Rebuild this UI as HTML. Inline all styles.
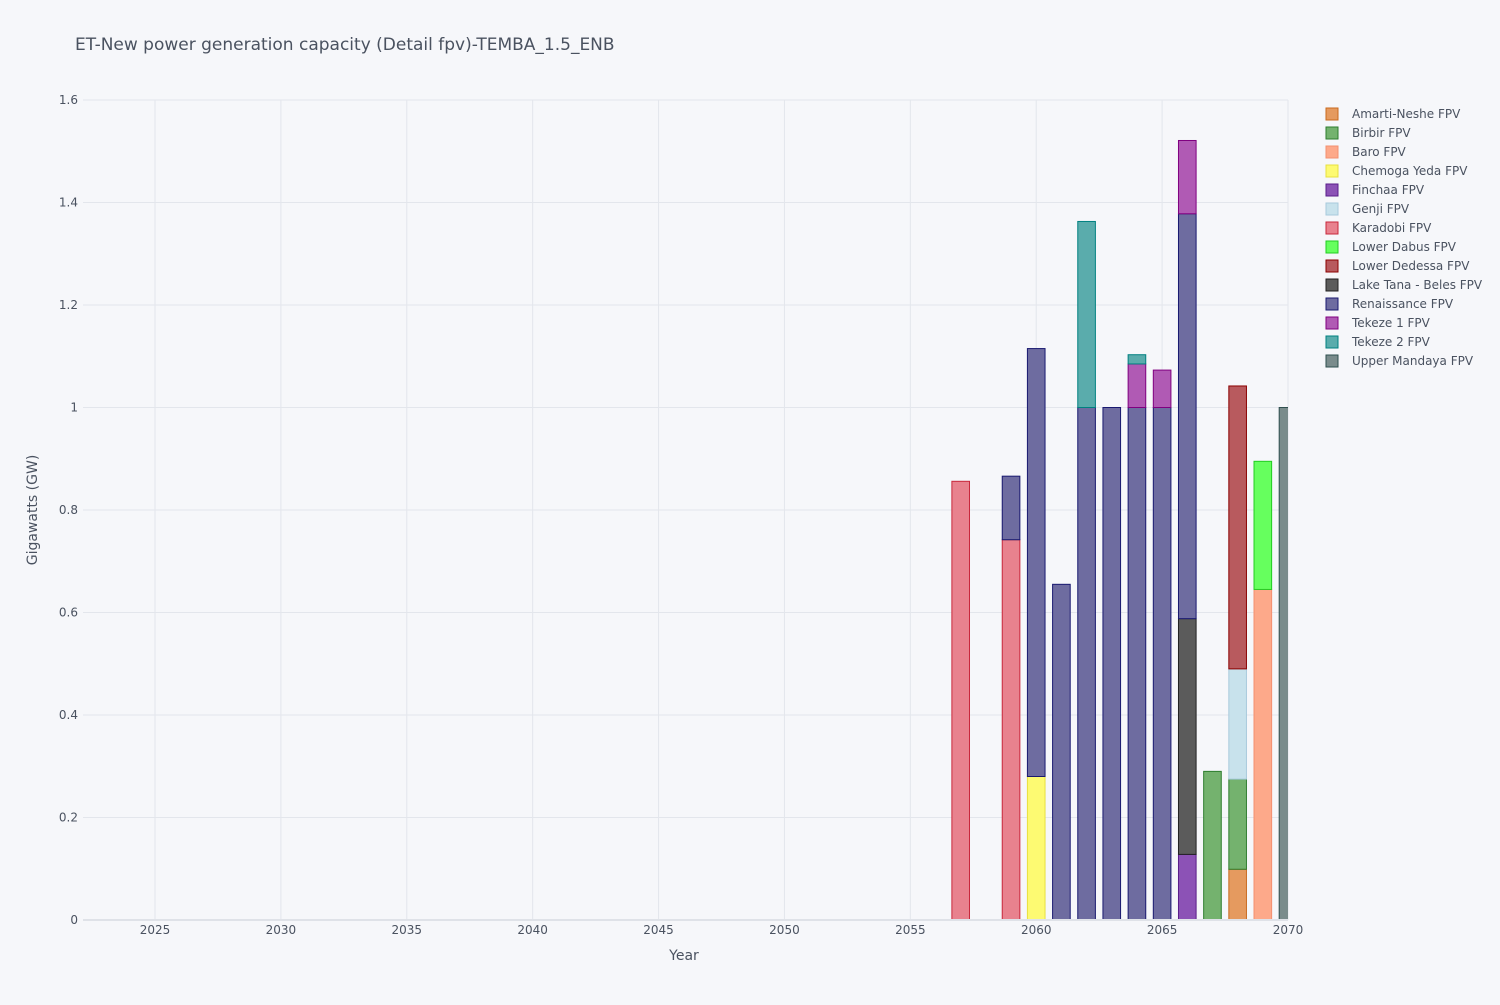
<!DOCTYPE html>
<html><head><meta charset="utf-8"><style>
body{margin:0;background:#f6f7fa;font-family:"Liberation Sans","DejaVu Sans",sans-serif;}
svg text{font-family:"DejaVu Sans","Liberation Sans",sans-serif;}
</style></head><body>
<svg id="c" width="1500" height="1000" xmlns="http://www.w3.org/2000/svg">
<rect width="1500" height="1000" fill="#f6f7fa"/>
<text x="75" y="50" font-size="17" fill="#4a5260">ET-New power generation capacity (Detail fpv)-TEMBA_1.5_ENB</text>
<g id="grid"></g><g id="bars"></g><g id="axes"></g><g id="legend"></g>
<text x="684" y="960" font-size="14" fill="#4a5260" text-anchor="middle">Year</text>
<text x="37" y="510" font-size="14" fill="#4a5260" text-anchor="middle" transform="rotate(-90 37 510)">Gigawatts (GW)</text>
</svg>
<script>
const seriesNames=["Amarti-Neshe FPV","Birbir FPV","Baro FPV","Chemoga Yeda FPV","Finchaa FPV","Genji FPV","Karadobi FPV","Lower Dabus FPV","Lower Dedessa FPV","Lake Tana - Beles FPV","Renaissance FPV","Tekeze 1 FPV","Tekeze 2 FPV","Upper Mandaya FPV"];
const fills=["#e59a5f","#74b26e","#fda98a","#fdfa72","#8c52b6","#c8e2ec","#e8828e","#66ff5e","#b85a5e","#5b5b5b","#6e6ca0","#b05ab4","#5aacac","#7a8c8c"];
const strokes=["#c96a1e","#2e7d2e","#f39070","#e8e040","#5a1e8a","#a8cadc","#c8283c","#22cc22","#8b0000","#222222","#191970","#800080","#008080","#2f4f4f"];
const years=[2057,2059,2060,2061,2062,2063,2064,2065,2066,2067,2068,2069,2070];
const values={
"Amarti-Neshe FPV":[0,0,0,0,0,0,0,0,0,0,0.099,0,0],
"Birbir FPV":[0,0,0,0,0,0,0,0,0,0.29,0.176,0,0],
"Baro FPV":[0,0,0,0,0,0,0,0,0,0,0,0.645,0],
"Chemoga Yeda FPV":[0,0,0.28,0,0,0,0,0,0,0,0,0,0],
"Finchaa FPV":[0,0,0,0,0,0,0,0,0.128,0,0,0,0],
"Genji FPV":[0,0,0,0,0,0,0,0,0,0,0.215,0,0],
"Karadobi FPV":[0.856,0.742,0,0,0,0,0,0,0,0,0,0,0],
"Lower Dabus FPV":[0,0,0,0,0,0,0,0,0,0,0,0.25,0],
"Lower Dedessa FPV":[0,0,0,0,0,0,0,0,0,0,0.552,0,0],
"Lake Tana - Beles FPV":[0,0,0,0,0,0,0,0,0.46,0,0,0,0],
"Renaissance FPV":[0,0.124,0.835,0.655,1.0,1.0,1.0,1.0,0.79,0,0,0,0],
"Tekeze 1 FPV":[0,0,0,0,0,0,0.085,0.073,0.143,0,0,0,0],
"Tekeze 2 FPV":[0,0,0,0,0.363,0,0.018,0,0,0,0,0,0],
"Upper Mandaya FPV":[0,0,0,0,0,0,0,0,0,0,0,0,1.0]};
const xTicks=[2025,2030,2035,2040,2045,2050,2055,2060,2065,2070];
const yTicks=[0,0.2,0.4,0.6,0.8,1,1.2,1.4,1.6];
const X0=83,X1=1288,Y0=920,Y1=100,xmin=2022.14,xmax=2070,ymax=1.6;
const xs=v=>X0+(v-xmin)/(xmax-xmin)*(X1-X0);
const ys=v=>Y0-v/ymax*(Y0-Y1);
const NS="http://www.w3.org/2000/svg";
function mk(t,a,p){const e=document.createElementNS(NS,t);for(const k in a)e.setAttribute(k,a[k]);p.appendChild(e);return e;}
const grid=document.getElementById('grid'),axes=document.getElementById('axes'),bars=document.getElementById('bars'),leg=document.getElementById('legend');
xTicks.forEach(t=>{const l=mk('line',{x1:xs(t),x2:xs(t),y1:Y1,y2:Y0,stroke:'#e3e6ec'},grid);
const tx=mk('text',{x:xs(t),y:Y0+14,'font-size':12,fill:'#4a5260','text-anchor':'middle'},axes);tx.textContent=t;});
yTicks.forEach(t=>{if(t>0){const l=mk('line',{x1:X0,x2:X1,y1:ys(t),y2:ys(t),stroke:'#e3e6ec'},grid);}
const tx=mk('text',{x:X0-5,y:ys(t)+4,'font-size':12,fill:'#4a5260','text-anchor':'end'},axes);tx.textContent=t;});
const zl=mk('line',{x1:X0,x2:X1,y1:Y0,y2:Y0,stroke:'#dfe2e8','stroke-width':2},axes);
mk('clipPath',{id:'clp'},bars);mk('rect',{x:X0,y:Y1-5,width:X1-X0,height:Y0-Y1+5},bars.lastChild);
const bw=(X1-X0)/(xmax-xmin)*0.7;
const base=years.map(()=>0);
seriesNames.forEach((n,si)=>{values[n].forEach((v,i)=>{if(!v)return;const x=xs(years[i])-bw/2;const y=ys(base[i]+v);
const r=mk('rect',{x:x,y:y,width:bw,height:ys(base[i])-y,fill:fills[si],stroke:strokes[si],'stroke-width':1,'clip-path':'url(#clp)'},bars);


base[i]+=v;});});
seriesNames.forEach((n,si)=>{const y=114+si*19;const g=mk('g',{},leg);


mk('rect',{x:1326,y:y-6,width:12,height:12,fill:fills[si],stroke:strokes[si]},g);
const t=mk('text',{x:1352,y:y+4,'font-size':12,fill:'#4a5260'},g);t.textContent=n;});
</script>
</body></html>
